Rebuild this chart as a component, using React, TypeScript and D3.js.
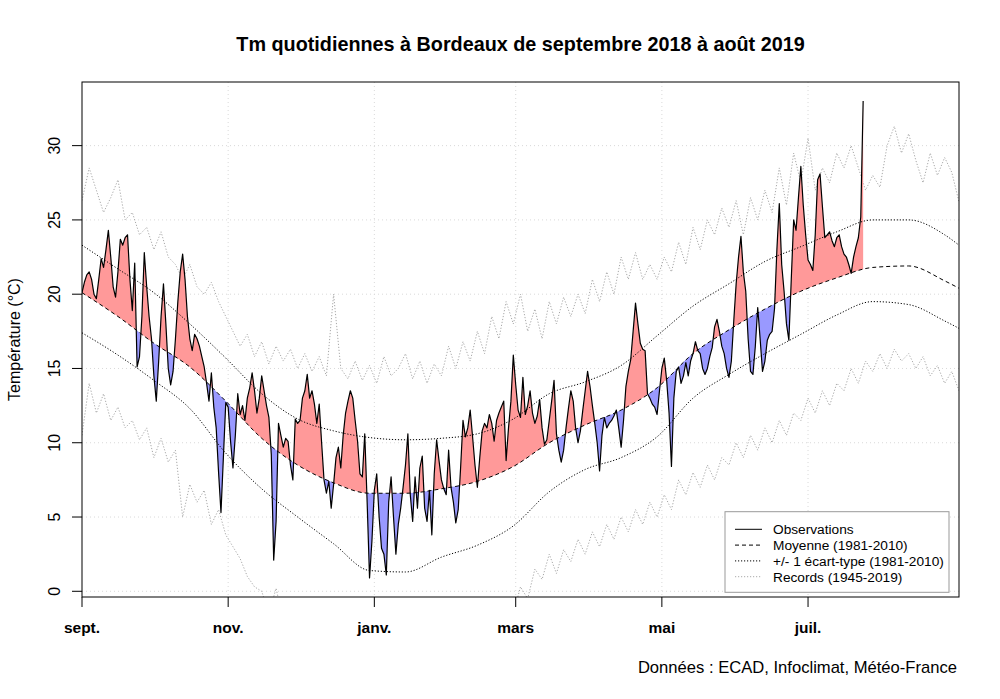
import React from 'react';
import * as d3 from 'd3';

// Daily mean temperature observations, from 1 Sept 2018 (day 0) to 24 July 2019
const obsTm: number[] = [
  20.1, 20.8, 21.3, 21.5, 21.0, 20.0, 19.7, 21.0, 22.4, 21.8,
  23.0, 24.3, 22.5, 20.5, 19.8, 21.5, 23.7, 23.3, 23.8, 24.0,
  21.0, 18.9, 22.1, 15.1, 15.8, 18.5, 22.8, 20.5, 18.5, 17.0,
  14.5, 12.8, 15.5, 18.5, 20.7, 18.0, 15.0, 13.9, 14.8, 17.0,
  19.5, 21.5, 22.7, 21.0, 18.5, 17.0, 16.2, 17.3, 17.0, 16.5,
  15.8, 15.1, 14.0, 12.8, 14.7, 12.4, 11.0, 8.0, 5.3, 9.0,
  12.7, 12.4, 10.1, 8.3, 10.5, 13.3, 11.9, 12.5, 11.5, 13.0,
  13.7, 14.7, 13.5, 12.0, 13.0, 14.5, 13.5, 12.5, 11.7, 9.2,
  2.1, 4.7, 11.3, 10.5, 9.7, 10.3, 10.1, 8.5, 7.5, 11.6,
  11.3, 11.5, 13.0, 13.5, 14.6, 13.0, 13.5, 12.6, 11.3, 12.6,
  10.0, 7.5, 6.6, 7.4, 5.6, 7.2, 9.0, 9.7, 8.3, 10.5,
  12.0, 12.8, 13.5, 13.0, 11.5, 10.1, 7.9, 7.7, 10.6, 6.0,
  0.9, 3.4, 6.8, 7.9, 5.0, 2.9, 2.5, 1.1, 6.0, 7.7,
  5.0, 2.5, 4.5, 5.6, 7.0, 8.5, 10.6, 6.5, 4.7, 7.7,
  5.6, 8.3, 9.1, 5.6, 4.7, 6.8, 3.8, 7.9, 10.2, 8.8,
  7.5, 6.9, 6.5, 9.5, 7.0, 6.0, 4.6, 5.5, 8.3, 11.5,
  10.4, 11.0, 12.2, 10.4, 8.5, 7.0, 9.0, 10.8, 11.3, 11.0,
  11.9, 11.3, 10.1, 11.5, 12.0, 12.4, 12.8, 8.8, 11.0, 12.8,
  15.9, 13.9, 12.2, 11.7, 14.4, 11.9, 12.5, 13.5, 12.0, 11.3,
  11.8, 12.9, 11.0, 9.9, 10.2, 11.5, 12.8, 14.2, 10.6, 9.5,
  8.7, 9.5, 11.0, 12.3, 13.5, 12.8, 11.0, 10.0, 10.8, 12.2,
  13.5, 14.8, 13.8, 12.5, 11.3, 10.0, 8.1, 10.5, 11.7, 11.0,
  11.3, 11.5, 11.8, 12.2, 11.0, 9.7, 11.5, 13.8, 14.8, 15.6,
  17.5, 19.4, 18.0, 16.7, 16.3, 16.2, 13.3, 13.0, 12.6, 12.4,
  11.9, 13.5, 15.0, 15.7, 14.2, 12.0, 8.4, 13.0, 14.8, 15.1,
  14.0, 14.5, 15.4, 14.5, 15.5, 16.0, 16.8, 16.2, 16.0, 15.0,
  14.6, 15.0, 15.8, 16.4, 17.8, 18.3, 17.5, 16.5, 16.0, 15.0,
  14.4, 15.5, 18.2, 20.7, 22.5, 23.9, 21.5, 20.2, 17.0, 14.8,
  14.6, 16.5, 19.1, 17.0, 14.8, 15.5, 16.9, 17.3, 17.5, 19.0,
  23.0, 26.1, 22.0, 20.2, 18.0, 16.9, 21.0, 25.0, 24.3, 26.5,
  28.6, 26.0, 24.0, 22.3, 22.0, 21.6, 24.0, 27.7, 28.1, 25.9,
  23.8, 24.0, 24.2, 23.6, 23.2, 23.8, 24.0, 23.2, 22.7, 22.5,
  22.0, 21.4, 22.5, 23.2, 23.8, 25.2, 33.0,
];

// Normal (1981-2010): mean and +/- 1 standard deviation, sampled days
const normDays = [0, 15, 30, 45, 60, 75, 90, 105, 120, 135, 150, 165, 180, 195, 210, 225, 240, 255, 270, 285, 300, 315, 330, 345, 360, 366];
const meanTm = [20.1, 18.5, 16.7, 15.1, 12.8, 10.3, 8.5, 7.3, 6.6, 6.6, 6.9, 7.4, 8.4, 10.0, 11.2, 12.2, 13.7, 16.0, 17.6, 19.0, 20.2, 21.1, 21.8, 21.9, 20.9, 20.4];
const sdUpTm = [23.3, 21.7, 20.1, 18.0, 15.7, 13.3, 11.6, 10.8, 10.35, 10.2, 10.3, 10.6, 11.6, 13.3, 14.1, 15.2, 17.2, 19.2, 20.7, 22.2, 23.2, 24.2, 25.0, 25.0, 24.0, 23.3];
const sdLowTm = [17.4, 15.9, 14.2, 12.3, 9.3, 6.9, 5.0, 3.2, 1.4, 1.3, 2.3, 3.1, 4.4, 6.7, 8.2, 9.0, 10.4, 13.0, 14.6, 16.0, 17.3, 18.6, 19.5, 19.3, 18.2, 17.7];

// Records (1945-2019), every 3 days from day 0
const recStep = 3;
const recMax = [
  26.3, 28.5, 27.0, 25.5, 26.5, 27.7, 25.0, 25.5, 24.0, 24.5,
  23.0, 24.2, 22.5, 22.0, 21.0, 22.0, 20.5, 20.0, 20.8, 19.5,
  18.5, 17.5, 16.5, 17.3, 15.8, 16.8, 15.3, 16.5, 15.5, 16.3,
  15.0, 16.0, 14.8, 15.8, 14.5, 20.0, 15.0, 14.3, 15.5, 14.2,
  15.2, 14.0, 15.8, 14.5, 15.0, 16.0, 14.3, 15.5, 14.0, 15.3,
  14.5, 16.5, 15.0, 16.8, 15.5, 17.5, 16.0, 18.5, 17.0, 19.5,
  18.0, 20.0, 17.5, 19.0, 17.0, 19.5, 18.0, 19.8, 18.5, 20.0,
  18.7, 21.0, 19.5, 21.5, 20.0, 22.5, 21.0, 22.8, 21.0, 22.0,
  21.0, 22.5, 21.5, 23.5, 22.0, 24.5, 23.0, 25.0, 24.0, 25.8,
  24.5, 26.3, 24.0, 26.5, 25.0, 27.0, 25.5, 28.5, 26.0, 29.5,
  27.5, 30.5, 27.0, 28.5, 27.5, 29.5, 28.5, 30.0, 28.5, 27.0,
  28.0, 27.2, 30.0, 31.3, 29.5, 30.8, 29.0, 27.5, 29.5, 28.0,
  29.2, 28.2, 26.2,
];
const recMin = [
  10.5, 14.0, 12.0, 13.3, 11.5, 12.4, 11.0, 11.5, 10.2, 11.0,
  9.0, 10.3, 8.7, 9.5, 5.0, 7.2, 6.0, 6.8, 4.5, 5.5,
  3.8, 3.0, 2.2, 1.0, 0.3, 0.0, -1.5, 0.2, -2.0, -1.0,
  -3.0, -2.5, -4.0, -3.0, -5.0, -4.0, -6.0, -5.0, -6.5, -5.5,
  -7.0, -6.0, -7.5, -6.0, -7.0, -5.5, -6.5, -5.0, -6.0, -4.5,
  -5.5, -4.0, -5.0, -3.5, -4.5, -3.0, -3.5, -2.0, -2.5, -1.2,
  -1.5, 0.3, -0.5, 1.5, 0.8, 2.5, 1.2, 2.8, 2.0, 3.5,
  2.5, 4.0, 3.0, 4.5, 3.5, 5.0, 4.0, 5.5, 4.5, 6.0,
  5.0, 6.5, 5.5, 7.5, 6.5, 8.0, 7.0, 8.5, 7.5, 9.0,
  8.5, 10.0, 9.0, 10.5, 9.5, 11.0, 10.0, 11.5, 10.5, 12.0,
  11.5, 13.0, 12.0, 13.5, 12.5, 14.0, 13.5, 15.0, 14.0, 15.5,
  14.8, 16.0, 15.0, 16.3, 15.5, 16.0, 15.0, 15.8, 14.5, 15.2,
  14.0, 14.8, 13.5,
];

const monthTickDays = [0, 61, 122, 181, 242, 303];
const monthLabels = ['sept.', 'nov.', 'janv.', 'mars', 'mai', 'juil.'];
const yTicks = [0, 5, 10, 15, 20, 25, 30];

const legendItems = [
  { label: 'Observations', dash: 'none', color: '#000' },
  { label: 'Moyenne (1981-2010)', dash: '4 3', color: '#000' },
  { label: '+/- 1 écart-type (1981-2010)', dash: '1.2 1.8', color: '#000' },
  { label: 'Records (1945-2019)', dash: '1.2 1.8', color: '#aaa' },
];

const FONT = '"Liberation Sans", Arial, Helvetica, sans-serif';

export default function App() {
  const W = 1000, H = 699;
  const L = 82, R = 959, T = 82, B = 597;
  const x = d3.scaleLinear().domain([0, 366]).range([L, R]);
  const [mn, mx] = d3.extent(obsTm) as [number, number];
  const pad = 0.04 * (mx - mn);
  const y = d3.scaleLinear().domain([mn - pad, mx + pad]).range([B, T]);

  type P = [number, number];
  const obsPts: P[] = obsTm.map((v, i) => [i, v]);
  const meanPts: P[] = normDays.map((d, i) => [d, meanTm[i]]);
  const upPts: P[] = normDays.map((d, i) => [d, sdUpTm[i]]);
  const lowPts: P[] = normDays.map((d, i) => [d, sdLowTm[i]]);
  const rMaxPts: P[] = recMax.map((v, i) => [i * recStep, v]);
  const rMinPts: P[] = recMin.map((v, i) => [i * recStep, v]);

  const curve = d3.curveMonotoneX;
  const lin = d3.line<P>().x(d => x(d[0])).y(d => y(d[1]));
  const smooth = d3.line<P>().x(d => x(d[0])).y(d => y(d[1])).curve(curve);
  const belowObs = d3.area<P>().x(d => x(d[0])).y0(B).y1(d => y(d[1]))(obsPts) || '';
  const aboveObs = d3.area<P>().x(d => x(d[0])).y0(T).y1(d => y(d[1]))(obsPts) || '';
  const meanTop = d3.area<P>().x(d => x(d[0])).y0(T).y1(d => y(d[1])).curve(curve)(meanPts) || '';
  const meanBot = d3.area<P>().x(d => x(d[0])).y0(B).y1(d => y(d[1])).curve(curve)(meanPts) || '';

  const legX = 725, legY = 511.7, legW = 224, legH = 80.6;

  return (
    <svg width={W} height={H} viewBox={`0 0 ${W} ${H}`}
      style={{ position: 'absolute', left: 0, top: 0, background: '#fff' }}
      fontFamily={FONT}>
      <defs>
        <clipPath id="plot"><rect x={L} y={T} width={R - L} height={B - T} /></clipPath>
        <clipPath id="belowObs"><path d={belowObs} /></clipPath>
        <clipPath id="aboveObs"><path d={aboveObs} /></clipPath>
      </defs>
      <rect x={0} y={0} width={W} height={H} fill="#fff" />

      {/* grid */}
      <g stroke="#d9d9d9" strokeWidth={1} strokeDasharray="1 3">
        {yTicks.map(t => <line key={'gy' + t} x1={L} x2={R} y1={y(t)} y2={y(t)} />)}
        {monthTickDays.slice(1).map(d => <line key={'gx' + d} x1={x(d)} x2={x(d)} y1={T} y2={B} />)}
      </g>

      <g clipPath="url(#plot)">
        {/* records */}
        <path d={lin(rMaxPts) || ''} fill="none" stroke="#a8a8a8" strokeWidth={1} strokeDasharray="1.2 1.8" />
        <path d={lin(rMinPts) || ''} fill="none" stroke="#a8a8a8" strokeWidth={1} strokeDasharray="1.2 1.8" />
        {/* anomaly fills */}
        <path d={meanTop} fill="#ff9999" clipPath="url(#belowObs)" />
        <path d={meanBot} fill="#9999ff" clipPath="url(#aboveObs)" />
        {/* normals */}
        <path d={smooth(meanPts) || ''} fill="none" stroke="#000" strokeWidth={1} strokeDasharray="4 3" />
        <path d={smooth(upPts) || ''} fill="none" stroke="#000" strokeWidth={1} strokeDasharray="1.2 1.8" />
        <path d={smooth(lowPts) || ''} fill="none" stroke="#000" strokeWidth={1} strokeDasharray="1.2 1.8" />
        {/* observations */}
        <path d={lin(obsPts) || ''} fill="none" stroke="#000" strokeWidth={1.2} strokeLinejoin="round" />
      </g>

      {/* frame */}
      <rect x={L} y={T} width={R - L} height={B - T} fill="none" stroke="#000" strokeWidth={1} />

      {/* y axis */}
      {yTicks.map(t => (
        <g key={'yt' + t}>
          <line x1={L - 10} x2={L} y1={y(t)} y2={y(t)} stroke="#000" />
          <text transform={`translate(${59.5},${y(t)}) rotate(-90)`} textAnchor="middle" fontSize={16} fill="#000">{t}</text>
        </g>
      ))}
      <text transform={`translate(20,${(T + B) / 2}) rotate(-90)`} textAnchor="middle" fontSize={16} fill="#000">Température (°C)</text>

      {/* x axis */}
      {monthTickDays.map((d, i) => (
        <g key={'xt' + d}>
          <line x1={x(d)} x2={x(d)} y1={B} y2={B + 10} stroke="#000" />
          <text x={x(d)} y={633} textAnchor="middle" fontSize={15.5} fontWeight="bold" fill="#000">{monthLabels[i]}</text>
        </g>
      ))}

      {/* title */}
      <text x={(L + R) / 2} y={51} textAnchor="middle" fontSize={19.8} fontWeight="bold" fill="#000">
        Tm quotidiennes à Bordeaux de septembre 2018 à août 2019
      </text>

      {/* source */}
      <text x={957} y={673} textAnchor="end" fontSize={16.6} fill="#000">Données : ECAD, Infoclimat, Météo-France</text>

      {/* legend */}
      <rect x={legX} y={legY} width={legW} height={legH} fill="#fff" stroke="#999" strokeWidth={1} />
      {legendItems.map((it, i) => {
        const cy = 529.3 + i * 15.8;
        return (
          <g key={it.label}>
            <line x1={735} x2={762} y1={cy} y2={cy} stroke={it.color} strokeWidth={1}
              strokeDasharray={it.dash === 'none' ? undefined : it.dash} />
            <text x={773} y={cy + 5} fontSize={13.7} fill="#000">{it.label}</text>
          </g>
        );
      })}
    </svg>
  );
}
